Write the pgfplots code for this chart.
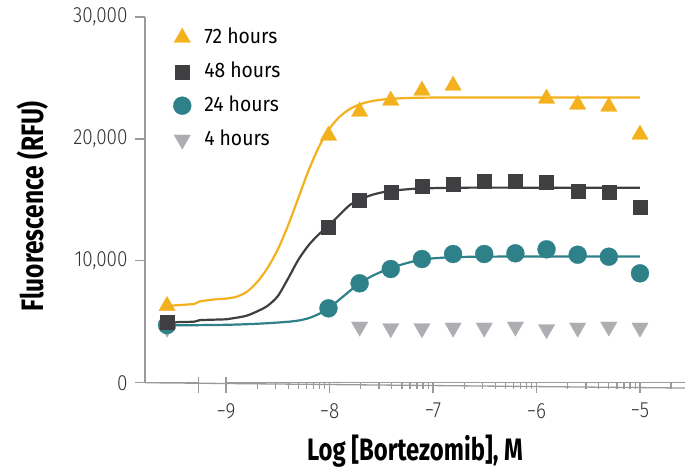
\documentclass[border=0pt]{standalone}
\usepackage{fontspec}
\setmainfont{Fira Sans}[FakeStretch=0.92]
\newfontfamily\tickfont{Fira Sans Light}[FakeStretch=0.86]
\newfontfamily\xlabfont{Fira Sans}[FakeStretch=0.77]
\newfontfamily\ylabfont{Fira Sans}[FakeStretch=0.79]
\usepackage{pgfplots}
\pgfplotsset{compat=1.18}
\definecolor{cY}{HTML}{F4B11E}
\definecolor{cD}{HTML}{3F3F41}
\definecolor{cT}{HTML}{2E8189}
\definecolor{cG}{HTML}{ADADB2}
\definecolor{axg}{HTML}{9A9A9A}
\definecolor{txt}{HTML}{333333}
\begin{document}
\begin{tikzpicture}
\begin{axis}[
  scale only axis, width=540pt, height=365.7pt,
  xmin=-9.783, xmax=-4.565, ymin=0, ymax=30000,
  clip=false,
  axis x line*=bottom, axis y line*=left,
  x axis line style={draw=none},
  y axis line style={axg, line width=1.3pt},
  tick align=outside, xtick align=outside, ytick align=outside,
  major tick length=10pt, minor tick length=6pt,
  every tick/.style={axg, line width=1.3pt},
  xtick={-9,-8,-7,-6,-5},
  xticklabels={−9,−8,−7,−6,−5},
  minor xtick={-8.699,-8.5229,-8.3979,-8.301,-8.2218,-8.1549,-8.0969,-8.0458,
               -7.699,-7.5229,-7.3979,-7.301,-7.2218,-7.1549,-7.0969,-7.0458,
               -6.699,-6.5229,-6.3979,-6.301,-6.2218,-6.1549,-6.0969,-6.0458,
               -5.699,-5.5229,-5.3979,-5.301,-5.2218,-5.1549,-5.0969,-5.0458,
               -4.699},
  ytick={0,10000,20000,30000},
  yticklabels={0,{10,000},{20,000},{30,000}},
  scaled y ticks=false,
  ticklabel style={font=\tickfont\fontsize{22}{25}\selectfont, text=txt},
  xticklabel style={yshift=-7pt},
  yticklabel style={xshift=-4pt},
  legend style={at={(0.052,0.97)}, anchor=north west, draw=none, fill=none,
    inner sep=0pt, row sep=15pt, column sep=13pt, font=\fontsize{21}{24}\selectfont,
    nodes={inner sep=0pt, text height=15pt, text depth=4pt, text=black}},
  legend cell align=left,
  reverse legend,
  legend image code/.code={\draw plot coordinates {(0pt,0pt)};},
]
% 4 hours
\addplot[only marks, mark=triangle*, mark size=9.5pt, color=cG,
  mark options={rotate=180, fill=cG, draw=cG, line width=0.3pt}] coordinates {
(-9.57,4500) (-7.709,4594) (-7.408,4462) (-7.107,4462) (-6.806,4512) (-6.505,4512)
(-6.204,4594) (-5.903,4380) (-5.602,4512) (-5.301,4594) (-5.0,4512)};
\addlegendentry{4 hours}
% 24 hours curve
\addplot[cT, line width=2.2pt, smooth, tension=0.5, forget plot] coordinates {
(-9.57,4700) (-9.28,4720) (-9.0,4750) (-8.8,4800) (-8.6,4880) (-8.4,5000) (-8.3,5100) (-8.2,5300)
(-8.1,5650) (-8.0,6150) (-7.9,6850) (-7.8,7550) (-7.7,8200) (-7.6,8700) (-7.5,9100)
(-7.4,9420) (-7.3,9700) (-7.2,9930) (-7.1,10100) (-7.0,10200) (-6.8,10300)
(-6.5,10340) (-6.0,10350) (-5.0,10350)};
\addplot[only marks, mark=*, mark size=9pt, color=cT,
  mark options={fill=cT, draw=cT, line width=0.3pt}] coordinates {
(-9.57,4733) (-8.01,6103) (-7.709,8154) (-7.408,9327) (-7.107,10147) (-6.806,10557)
(-6.505,10557) (-6.204,10615) (-5.903,10943) (-5.602,10500) (-5.301,10336) (-5.0,8974)};
\addlegendentry{24 hours}
% 48 hours curve
\addplot[cD, line width=2.2pt, forget plot] coordinates {(-9.57,4950) (-9.31,5000) (-9.25,5140) (-9.0,5200)};
\addplot[cD, line width=2.2pt, smooth, tension=0.5, forget plot] coordinates {
(-9.0,5200) (-8.9,5330) (-8.8,5500) (-8.7,5850) (-8.6,6300) (-8.5,7100)
(-8.4,8550) (-8.3,10100) (-8.2,11300) (-8.1,12200) (-8.0,12950) (-7.9,13800)
(-7.8,14600) (-7.7,15050) (-7.6,15380) (-7.5,15600) (-7.4,15740) (-7.2,15900)
(-7.0,15960) (-6.7,16000) (-6.0,16000) (-5.0,16000)};
\addplot[only marks, mark=square*, mark size=7pt, color=cD,
  mark options={fill=cD, draw=cD, line width=0.3pt}] coordinates {
(-9.57,4955) (-8.01,12797) (-7.709,14987) (-7.408,15619) (-7.107,16135) (-6.806,16300)
(-6.505,16570) (-6.204,16570) (-5.903,16488) (-5.602,15750) (-5.301,15619) (-5.0,14388)};
\addlegendentry{48 hours}
% 72 hours curve
\addplot[cY, line width=2.2pt, forget plot] coordinates {(-9.57,6300) (-9.31,6450) (-9.25,6680) (-9.1,6850)};
\addplot[cY, line width=2.2pt, smooth, tension=0.5, forget plot] coordinates {
(-9.1,6850) (-9.0,6900) (-8.9,7050) (-8.8,7450) (-8.7,8250) (-8.6,9400)
(-8.5,10934) (-8.4,12910) (-8.3,15192) (-8.2,17456) (-8.1,19387) (-8.0,20846)
(-7.9,21838) (-7.8,22470) (-7.7,22855) (-7.6,23085) (-7.5,23218) (-7.4,23295)
(-7.2,23366) (-7.0,23390) (-6.5,23400) (-6.0,23400) (-5.0,23400)};
\addplot[only marks, mark=triangle*, mark size=9.5pt, color=cY,
  mark options={fill=cY, draw=cY, line width=0.3pt}] coordinates {
(-9.57,6300) (-8.01,20278) (-7.709,22247) (-7.408,23149) (-7.107,23969) (-6.806,24379)
(-5.903,23313) (-5.602,22821) (-5.301,22657) (-5.0,20360)};
\addlegendentry{72 hours}
% broken x axis
\draw[axg, line width=1.3pt] (axis cs:-9.783,0) -- (axis cs:-9.268,0);
\draw[axg, line width=1.3pt] (axis cs:-9,0) -- (axis cs:-4.565,0);
\draw[axg, line width=1.3pt] ([yshift=6pt]axis cs:-9.268,0) -- ([yshift=-10pt]axis cs:-9.268,0);
\draw[axg, line width=1.3pt] ([yshift=6pt]axis cs:-9,0) -- ([yshift=-10pt]axis cs:-9,0);
\draw[axg, line width=1.3pt] (axis cs:-9.783,0) -- ++(0,-10pt);
% labels
\node[font=\xlabfont\bfseries\fontsize{31}{36}\selectfont, text=black] at ([yshift=-68pt]rel axis cs:0.5,0) {Log [Bortezomib], M};
\node[rotate=90, font=\ylabfont\bfseries\fontsize{31}{36}\selectfont, text=black] at ([xshift=-112pt]rel axis cs:0,0.483) {Fluorescence (RFU)};
\coordinate (O) at (rel axis cs:0,0);
\end{axis}
\pgfresetboundingbox
\path[use as bounding box] (O) ++(-145pt,-84.3pt) rectangle ++(685pt,467pt);
\end{tikzpicture}
\end{document}
